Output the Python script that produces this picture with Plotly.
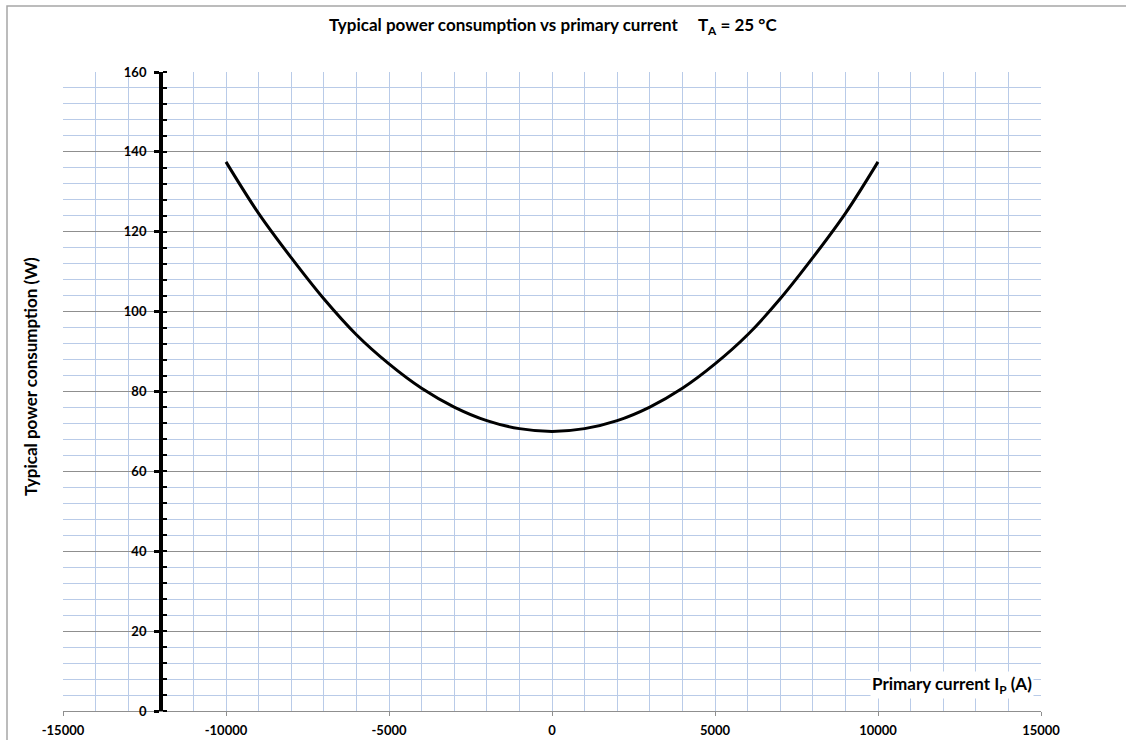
import plotly.graph_objects as go

# Data
current_a = [-10000, -9000, -8000, -7000, -6000, -5000, -4000, -3000, -2000, -1000,
             0, 1000, 2000, 3000, 4000, 5000, 6000, 7000, 8000, 9000, 10000]
power_w = [137.5, 124.6, 113.5, 103.2, 94.2, 86.9, 80.8, 76.1, 72.7, 70.7,
           70.0, 70.7, 72.7, 76.1, 80.8, 86.9, 94.2, 103.2, 113.5, 124.6, 137.5]

x_ticks = [-15000, -10000, -5000, 0, 5000, 10000, 15000]
y_ticks = [0, 20, 40, 60, 80, 100, 120, 140, 160]

FONT = "Lato"
BLUE = "#b9cbe8"
GREY = "#8f8f8f"

W, H = 1126, 740
L, R, T, B = 63, 1041, 72, 711
pw, ph = R - L, B - T

def px(xp):
    return (xp - L) / pw

def py(yp):
    return (B - yp) / ph

fig = go.Figure()
fig.add_trace(go.Scatter(
    x=current_a, y=power_w, mode="lines",
    line=dict(color="black", width=3, shape="spline", smoothing=1.0),
    hoverinfo="skip", showlegend=False,
))

fig.update_layout(
    width=W, height=H,
    margin=dict(l=L, r=W - R, t=T, b=H - B, autoexpand=False),
    paper_bgcolor="white", plot_bgcolor="white",
    font=dict(family=FONT, color="black"),
    showlegend=False,
    xaxis=dict(
        range=[-15000, 15000], domain=[0, 1], automargin=False,
        tickvals=x_ticks, ticktext=[str(v) for v in x_ticks],
        tickfont=dict(size=13, weight="bold", family=FONT),
        ticklabelstandoff=3,
        showgrid=True, gridcolor=BLUE, gridwidth=1,
        minor=dict(dtick=1000, showgrid=True, gridcolor=BLUE, gridwidth=1),
        zeroline=False,
        showline=True, linecolor=GREY, linewidth=1.2,
        ticks="outside", ticklen=4, tickcolor=GREY, tickwidth=1,
    ),
    yaxis=dict(
        range=[0, 160], anchor="free", position=0.1, automargin=False,
        tickvals=y_ticks, ticktext=[str(v) for v in y_ticks],
        tickfont=dict(size=13, weight="bold", family=FONT),
        ticklabelstandoff=5,
        showgrid=True, gridcolor=GREY, gridwidth=1,
        minor=dict(dtick=4, showgrid=True, gridcolor=BLUE, gridwidth=1,
                   ticks="inside", ticklen=4, tickcolor="black", tickwidth=2),
        zeroline=False,
        showline=True, linecolor="black", linewidth=3.5,
        ticks="outside", ticklen=5, tickcolor="black", tickwidth=2.5,
    ),
    shapes=[
        dict(type="rect", xref="paper", yref="paper",
             x0=px(7), x1=px(1140), y0=py(6), y1=py(760),
             line=dict(color="#a6a6a6", width=1.5), fillcolor="rgba(0,0,0,0)",
             layer="below"),
    ],
    annotations=[
        dict(text="Typical power consumption vs primary current     T<sub>A</sub> = 25 °C",
             xref="paper", yref="paper", x=px(553), y=py(26),
             xanchor="center", yanchor="middle", showarrow=False,
             font=dict(size=17, weight="bold", family=FONT)),
        dict(text="Typical power consumption (W)",
             xref="paper", yref="paper", x=px(30), y=py(377),
             xanchor="center", yanchor="middle", textangle=-90, showarrow=False,
             font=dict(size=17, weight="bold", family=FONT)),
        dict(text="Primary current I<sub>P</sub> (A)",
             xref="paper", yref="paper", x=px(952), y=py(685),
             xanchor="center", yanchor="middle", showarrow=False,
             bgcolor="white",
             font=dict(size=17, weight="bold", family=FONT)),
    ],
)

fig.write_html("out.html", config={"displayModeBar": False},
               post_script="document.body.style.margin='0';document.body.style.overflow='hidden';")
